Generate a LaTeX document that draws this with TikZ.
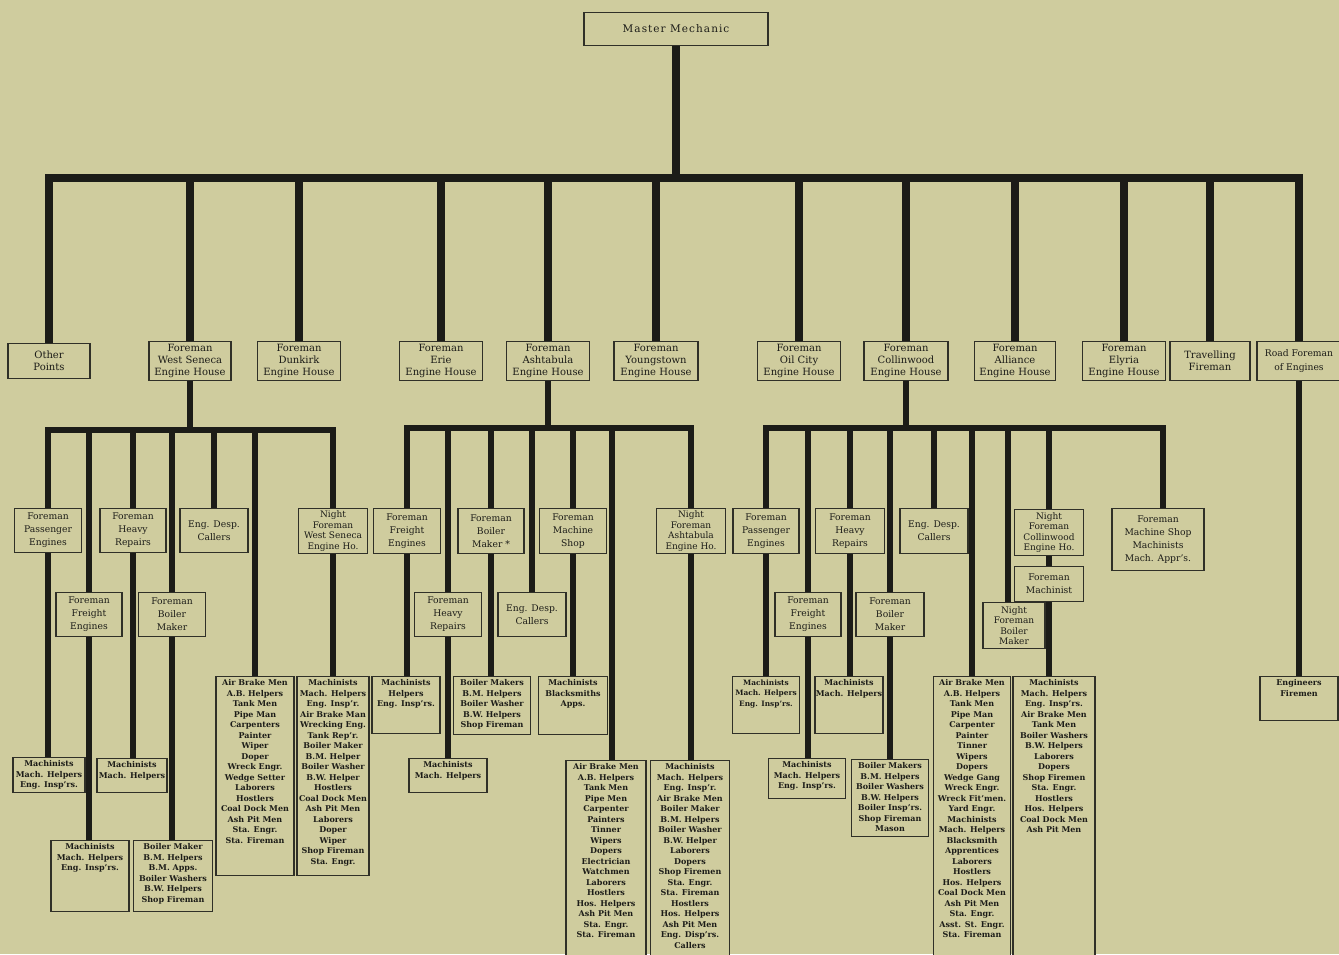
\documentclass[tikz,border=0pt]{standalone}
\usepackage{fontspec}
\setmainfont{DejaVu Serif}
\definecolor{bg}{RGB}{207,204,158}
\definecolor{ink}{RGB}{28,28,24}
\definecolor{boxc}{RGB}{48,48,40}
\newcommand\tf{\fontsize{10}{12.2}\selectfont}
\newcommand\ff{\fontsize{9.2}{13}\selectfont}
\newcommand\nf{\fontsize{9}{10.4}\selectfont}
\newcommand\lf{\fontsize{8}{10.5}\selectfont\bfseries}
\newcommand\BC[3]{\parbox[c][#2][c]{#1}{\centering #3\par}}
\newcommand\BT[3]{\parbox[c][#2][t]{#1}{\centering\vspace*{3pt}\lf #3\par}}
\tikzset{
  bx/.style={draw=boxc, line width=1.1pt, fill=bg, inner sep=0pt, anchor=north, text=ink},
  trunk/.style={draw=ink, line width=8pt},
  sub/.style={draw=ink, line width=6.5pt},
}
\begin{document}
\begin{tikzpicture}[x=1pt,y=-1pt]
\useasboundingbox (0,0) rectangle (1339,954);
\fill[bg] (0,0) rectangle (1339,954);

% top
\node[bx] (mm) at (676,12) {\BC{184pt}{33pt}{\fontsize{10.5}{12}\selectfont\addfontfeatures{LetterSpace=10}Master Mechanic}};

\node[bx] (t1) at (49,343) {\BC{82pt}{35pt}{\tf Other\\Points}};
\node[bx] (t2) at (190,341) {\BC{82pt}{39pt}{\tf Foreman\\West Seneca\\Engine House}};
\node[bx] (t3) at (299,341) {\BC{83pt}{39pt}{\tf Foreman\\Dunkirk\\Engine House}};
\node[bx] (t4) at (441,341) {\BC{83pt}{39pt}{\tf Foreman\\Erie\\Engine House}};
\node[bx] (t5) at (548,341) {\BC{83pt}{39pt}{\tf Foreman\\Ashtabula\\Engine House}};
\node[bx] (t6) at (656,341) {\BC{84pt}{39pt}{\tf Foreman\\Youngstown\\Engine House}};
\node[bx] (t7) at (799,341) {\BC{83pt}{39pt}{\tf Foreman\\Oil City\\Engine House}};
\node[bx] (t8) at (906,341) {\BC{84pt}{39pt}{\tf Foreman\\Collinwood\\Engine House}};
\node[bx] (t9) at (1015,341) {\BC{81pt}{39pt}{\tf Foreman\\Alliance\\Engine House}};
\node[bx] (t10) at (1124,341) {\BC{83pt}{39pt}{\tf Foreman\\Elyria\\Engine House}};
\node[bx] (t11) at (1210,341) {\BC{80pt}{39pt}{\tf Travelling\\Fireman}};
\node[bx] (t12) at (1299,341) {\BC{84pt}{39pt}{\fontsize{9.2}{14}\selectfont Road Foreman\\of Engines}};

% West Seneca group
\node[bx] (a1) at (48,508) {\BC{67pt}{44pt}{\ff Foreman\\Passenger\\Engines}};
\node[bx] (a2) at (89,592) {\BC{66pt}{44pt}{\ff Foreman\\Freight\\Engines}};
\node[bx] (a3) at (133,508) {\BC{66pt}{44pt}{\ff Foreman\\Heavy\\Repairs}};
\node[bx] (a4) at (172,592) {\BC{67pt}{44pt}{\ff Foreman\\Boiler\\Maker}};
\node[bx] (a5) at (214,508) {\BC{68pt}{44pt}{\ff Eng. Desp.\\Callers}};
\node[bx] (a6) at (333,508) {\BC{69pt}{45pt}{\nf Night\\Foreman\\West Seneca\\Engine Ho.}};
\node[bx] (l1) at (49,757) {\BT{72pt}{35pt}{Machinists\\Mach. Helpers\\Eng. Insp'rs.}};
\node[bx] (l2) at (90,840) {\BT{78pt}{71pt}{Machinists\\Mach. Helpers\\Eng. Insp'rs.}};
\node[bx] (l3) at (132,758) {\BT{70pt}{34pt}{Machinists\\Mach. Helpers}};
\node[bx] (l4) at (173,840) {\BT{79pt}{71pt}{Boiler Maker\\B.M. Helpers\\B.M. Apps.\\Boiler Washers\\B.W. Helpers\\Shop Fireman}};
\node[bx] (l5) at (255,676) {\BT{78pt}{199pt}{Air Brake Men\\A.B. Helpers\\Tank Men\\Pipe Man\\Carpenters\\Painter\\Wiper\\Doper\\Wreck Engr.\\Wedge Setter\\Laborers\\Hostlers\\Coal Dock Men\\Ash Pit Men\\Sta. Engr.\\Sta. Fireman}};
\node[bx] (l6) at (333,676) {\BT{72pt}{199pt}{Machinists\\Mach. Helpers\\Eng. Insp'r.\\Air Brake Man\\Wrecking Eng.\\Tank Rep'r.\\Boiler Maker\\B.M. Helper\\Boiler Washer\\B.W. Helper\\Hostlers\\Coal Dock Men\\Ash Pit Men\\Laborers\\Doper\\Wiper\\Shop Fireman\\Sta. Engr.}};

% Ashtabula group
\node[bx] (b1) at (407,508) {\BC{67pt}{45pt}{\ff Foreman\\Freight\\Engines}};
\node[bx] (b2) at (448,592) {\BC{67pt}{44pt}{\ff Foreman\\Heavy\\Repairs}};
\node[bx] (b3) at (491,508) {\BC{66pt}{45pt}{\ff Foreman\\Boiler\\Maker *}};
\node[bx] (b4) at (532,592) {\BC{68pt}{44pt}{\ff Eng. Desp.\\Callers}};
\node[bx] (b5) at (573,508) {\BC{67pt}{45pt}{\ff Foreman\\Machine\\Shop}};
\node[bx] (b6) at (691,508) {\BC{69pt}{45pt}{\nf Night\\Foreman\\Ashtabula\\Engine Ho.}};
\node[bx] (m1) at (406,676) {\BT{68pt}{57pt}{Machinists\\Helpers\\Eng. Insp'rs.}};
\node[bx] (m2) at (448,758) {\BT{78pt}{34pt}{Machinists\\Mach. Helpers}};
\node[bx] (m3) at (492,676) {\BT{77pt}{58pt}{Boiler Makers\\B.M. Helpers\\Boiler Washer\\B.W. Helpers\\Shop Fireman}};
\node[bx] (m4) at (573,676) {\BT{69pt}{58pt}{Machinists\\Blacksmiths\\Apps.}};
\node[bx] (m5) at (606,760) {\BT{80pt}{200pt}{Air Brake Men\\A.B. Helpers\\Tank Men\\Pipe Men\\Carpenter\\Painters\\Tinner\\Wipers\\Dopers\\Electrician\\Watchmen\\Laborers\\Hostlers\\Hos. Helpers\\Ash Pit Men\\Sta. Engr.\\Sta. Fireman}};
\node[bx] (m6) at (690,760) {\BT{79pt}{200pt}{Machinists\\Mach. Helpers\\Eng. Insp'r.\\Air Brake Men\\Boiler Maker\\B.M. Helpers\\Boiler Washer\\B.W. Helper\\Laborers\\Dopers\\Shop Firemen\\Sta. Engr.\\Sta. Fireman\\Hostlers\\Hos. Helpers\\Ash Pit Men\\Eng. Disp'rs.\\Callers}};

% Collinwood group
\node[bx] (c1) at (766,508) {\BC{66pt}{45pt}{\ff Foreman\\Passenger\\Engines}};
\node[bx] (c2) at (808,592) {\BC{66pt}{44pt}{\ff Foreman\\Freight\\Engines}};
\node[bx] (c3) at (850,508) {\BC{69pt}{45pt}{\ff Foreman\\Heavy\\Repairs}};
\node[bx] (c4) at (890,592) {\BC{68pt}{44pt}{\ff Foreman\\Boiler\\Maker}};
\node[bx] (c5) at (934,508) {\BC{68pt}{45pt}{\ff Eng. Desp.\\Callers}};
\node[bx] (c6) at (1014,602) {\BC{62pt}{46pt}{\nf Night\\Foreman\\Boiler\\Maker}};
\node[bx] (c7) at (1049,509) {\BC{69pt}{46pt}{\nf Night\\Foreman\\Collinwood\\Engine Ho.}};
\node[bx] (c8) at (1049,566) {\BC{69pt}{35pt}{\ff Foreman\\Machinist}};
\node[bx] (c9) at (1158,508) {\BC{92pt}{62pt}{\ff Foreman\\Machine Shop\\Machinists\\Mach. Appr's.}};
\node[bx] (n1) at (766,676) {\BT{67pt}{57pt}{\fontsize{7.4}{10.5}\selectfont Machinists\\Mach. Helpers\\Eng. Insp'rs.}};
\node[bx] (n2) at (807,758) {\BT{77pt}{40pt}{Machinists\\Mach. Helpers\\Eng. Insp'rs.}};
\node[bx] (n3) at (849,676) {\BT{68pt}{57pt}{Machinists\\Mach. Helpers}};
\node[bx] (n4) at (890,759) {\BT{77pt}{77pt}{Boiler Makers\\B.M. Helpers\\Boiler Washers\\B.W. Helpers\\Boiler Insp'rs.\\Shop Fireman\\Mason}};
\node[bx] (n5) at (972,676) {\BT{77pt}{280pt}{Air Brake Men\\A.B. Helpers\\Tank Men\\Pipe Man\\Carpenter\\Painter\\Tinner\\Wipers\\Dopers\\Wedge Gang\\Wreck Engr.\\Wreck Fit'men.\\Yard Engr.\\Machinists\\Mach. Helpers\\Blacksmith\\Apprentices\\Laborers\\Hostlers\\Hos. Helpers\\Coal Dock Men\\Ash Pit Men\\Sta. Engr.\\Asst. St. Engr.\\Sta. Fireman}};
\node[bx] (n6) at (1054,676) {\BT{82pt}{280pt}{Machinists\\Mach. Helpers\\Eng. Insp'rs.\\Air Brake Men\\Tank Men\\Boiler Washers\\B.W. Helpers\\Laborers\\Dopers\\Shop Firemen\\Sta. Engr.\\Hostlers\\Hos. Helpers\\Coal Dock Men\\Ash Pit Men}};

% Road foreman
\node[bx] (rf) at (1299,676) {\BT{78pt}{44pt}{Engineers\\Firemen}};

% connectors: top level
\coordinate (tb) at (0,178);
\draw[trunk] (mm.south) -- (mm.south |- tb);
\draw[trunk,line cap=rect] (t1.north |- tb) -- (t12.north |- tb);
\foreach \n in {t1,t2,t3,t4,t5,t6,t7,t8,t9,t10,t11,t12}
  \draw[trunk] (\n.north) -- (\n.north |- tb);

% West Seneca
\coordinate (wb) at (0,430);
\draw[sub] (t2.south) -- (t2.south |- wb);
\draw[sub,line cap=rect] (a1.north |- wb) -- (a6.north |- wb);
\foreach \n in {a1,a2,a3,a4,a5,l5,a6}
  \draw[sub] (\n.north) -- (\n.north |- wb);
\draw[sub] (a1.south) -- (a1.south |- l1.north);
\draw[sub] (a2.south) -- (a2.south |- l2.north);
\draw[sub] (a3.south) -- (a3.south |- l3.north);
\draw[sub] (a4.south) -- (a4.south |- l4.north);
\draw[sub] (a6.south) -- (a6.south |- l6.north);

% Ashtabula
\coordinate (ab) at (0,428);
\draw[sub] (t5.south) -- (t5.south |- ab);
\draw[sub,line cap=rect] (b1.north |- ab) -- (b6.north |- ab);
\foreach \n in {b1,b2,b3,b4,b5,b6}
  \draw[sub] (\n.north) -- (\n.north |- ab);
\draw[sub] ([xshift=6pt]m5.north) -- ([xshift=6pt]m5.north |- ab);
\draw[sub] (b1.south) -- (b1.south |- m1.north);
\draw[sub] (b2.south) -- (b2.south |- m2.north);
\draw[sub] (b3.south) -- (b3.south |- m3.north);
\draw[sub] (b5.south) -- (b5.south |- m4.north);
\draw[sub] (b6.south) -- (b6.south |- m6.north);

% Collinwood
\coordinate (cb) at (0,428);
\draw[sub] (t8.south) -- (t8.south |- cb);
\draw[sub,line cap=rect] (c1.north |- cb) -- ([xshift=5pt]c9.north |- cb);
\foreach \n in {c1,c2,c3,c4,c5,n5,c7}
  \draw[sub] (\n.north) -- (\n.north |- cb);
\draw[sub] ([xshift=-6pt]c6.north) -- ([xshift=-6pt]c6.north |- cb);
\draw[sub] ([xshift=5pt]c9.north) -- ([xshift=5pt]c9.north |- cb);
\draw[sub] (c1.south) -- (c1.south |- n1.north);
\draw[sub] (c2.south) -- (c2.south |- n2.north);
\draw[sub] (c3.south) -- (c3.south |- n3.north);
\draw[sub] (c4.south) -- (c4.south |- n4.north);
\draw[sub] (c7.south) -- (c7.south |- c8.north);
\draw[sub] ([xshift=-5pt]n6.north |- c8.south) -- ([xshift=-5pt]n6.north);

% Road foreman
\draw[sub] (t12.south) -- (t12.south |- rf.north);
\end{tikzpicture}
\end{document}
